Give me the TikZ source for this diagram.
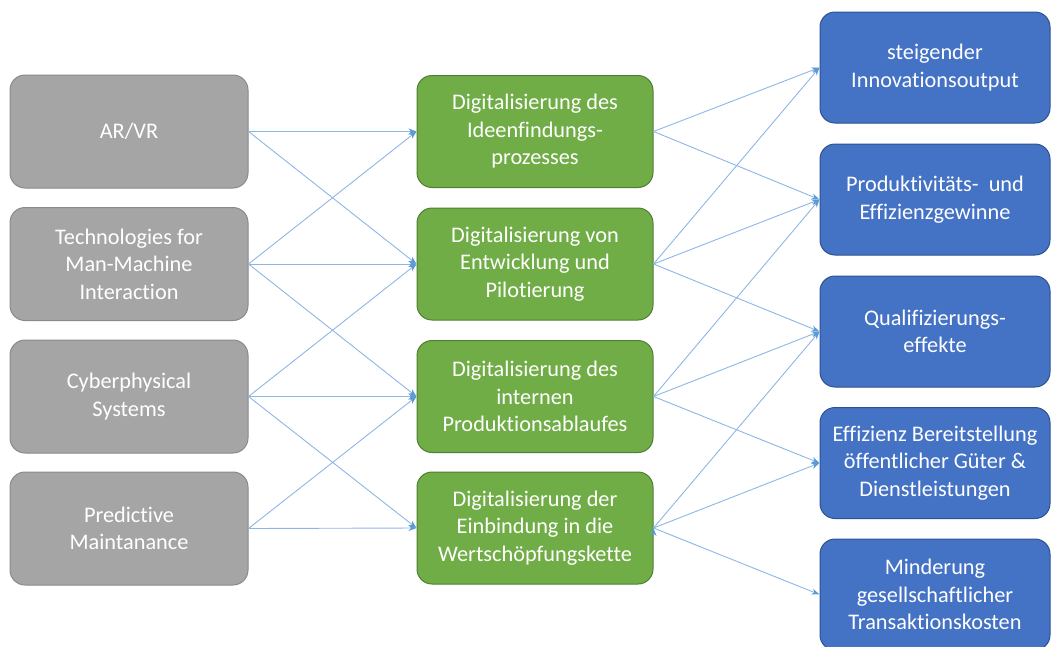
\documentclass[tikz,border=0pt]{standalone}
\usepackage{fontspec}
\setmainfont{Carlito}[Ligatures = NoCommon]
\usetikzlibrary{arrows.meta}

\definecolor{grayfill}{HTML}{A5A5A5}
\definecolor{graydraw}{HTML}{8A8A8A}
\definecolor{greenfill}{HTML}{70AD47}
\definecolor{greendraw}{HTML}{507E32}
\definecolor{bluefill}{HTML}{4472C4}
\definecolor{bluedraw}{HTML}{2F528F}
\definecolor{linkline}{HTML}{8DB6E4}
\definecolor{linktip}{HTML}{5B9BD5}

\tikzset{
    box/.style = {rounded corners = 15pt, line width = 1pt, align = center,
        text = white, font = \fontsize{22.3}{27.5}\selectfont},
    tech/.style = {box, fill = grayfill, draw = graydraw,
        minimum width = 238pt, minimum height = 113pt},
    dig/.style = {box, fill = greenfill, draw = greendraw,
        minimum width = 236pt, minimum height = 112pt},
    eff/.style = {box, fill = bluefill, draw = bluedraw,
        minimum width = 230pt, minimum height = 111pt},
    link/.style = {draw = linkline, line width = 0.9pt,
        -{Stealth[length = 8pt, width = 6pt, color = linktip]}}
}

\begin{document}
\begin{tikzpicture}[x = 1pt, y = -1pt]
        \useasboundingbox (0, 0) rectangle (1052, 646);

        % technologies
        \node [tech] (arvr) at (129, 131.5) {AR/VR};
        \node [tech] (mmi) at (129, 264) {Technologies for\\Man-Machine\\Interaction};
        \node [tech] (cps) at (129, 396.5) {Cyberphysical\\Systems};
        \node [tech] (pm) at (129, 528.5) {Predictive\\Maintanance};

        % digitalisation
        \node [dig] (idee) at (535, 131.5) {Digitalisierung des\\Ideenfindungs-\\prozesses};
        \node [dig] (entw) at (535, 264) {Digitalisierung von\\Entwicklung und\\Pilotierung};
        \node [dig] (prod) at (535, 396.5) {Digitalisierung des\\internen\\Produktionsablaufes};
        \node [dig] (wert) at (535, 528) {Digitalisierung der\\Einbindung in die\\Wertschöpfungskette};

        % effects
        \node [eff] (innov) at (935, 67.5) {steigender\\Innovationsoutput};
        \node [eff] (gewinn) at (935, 199.5) {Produktivitäts-~ und\\Effizienzgewinne};
        \node [eff] (quali) at (935, 331.5) {Qualifizierungs-\\effekte};
        \node [eff] (oeff) at (935, 463) {Effizienz Bereitstellung\\öffentlicher Güter \&\\Dienstleistungen};
        \node [eff] (trans) at (935, 594.5) {Minderung\\gesellschaftlicher\\Transaktionskosten};

        \path [link]
            (arvr.east) edge (idee.west)
            (arvr.east) edge (entw.west)
            (mmi.east) edge (idee.west)
            (mmi.east) edge (entw.west)
            (mmi.east) edge (prod.west)
            (cps.east) edge (entw.west)
            (cps.east) edge (prod.west)
            (cps.east) edge (wert.west)
            (pm.east) edge (prod.west)
            (pm.east) edge (wert.west)

            (idee.east) edge (innov.west)
            (idee.east) edge (gewinn.west)
            (entw.east) edge (innov.west)
            (entw.east) edge (gewinn.west)
            (entw.east) edge (quali.west)
            (prod.east) edge (gewinn.west)
            (prod.east) edge (quali.west)
            (prod.east) edge (oeff.west)
            (wert.east) edge (quali.west)
            (wert.east) edge (oeff.west)
            (wert.east) edge (trans.west)
        ;
    \end{tikzpicture}
\end{document}
